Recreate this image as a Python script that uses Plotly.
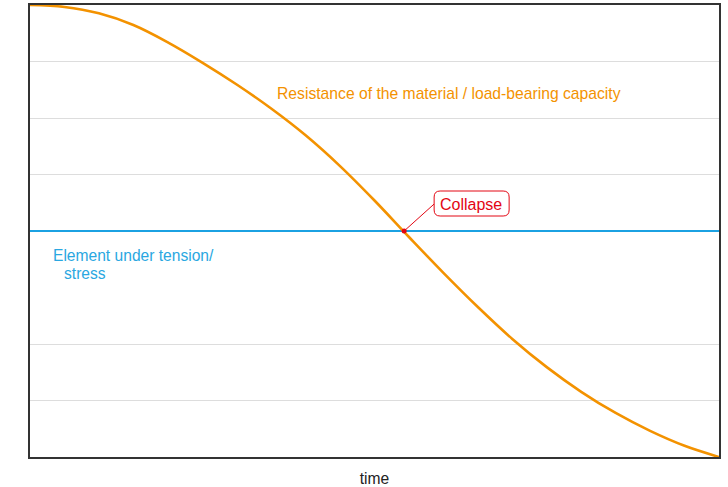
import plotly.graph_objects as go

# Data (time in arbitrary units 0..10, level in grid units 0..8)
capacity_t = [0, 0.5, 1, 1.5, 2, 2.5, 3, 3.5, 4, 4.5, 5, 5.5, 6, 6.5, 7, 7.5, 8, 8.5, 9, 9.5, 10]
capacity_y = [8.0, 7.965, 7.853, 7.646, 7.340, 6.982, 6.593, 6.168, 5.694, 5.149, 4.540,
              3.894, 3.260, 2.655, 2.090, 1.591, 1.154, 0.779, 0.462, 0.198, 0.0]
stress_t = [0, 10]
stress_y = [4, 4]
collapse_t = [5.43]
collapse_y = [4]
grid_levels = [1, 2, 5, 6, 7]

ORANGE = "#F39200"
BLUE = "#1BA1E2"
BLUE_TEXT = "#2AA7E1"
RED = "#E30613"
FONT = "Liberation Sans, Arial, sans-serif"

fig = go.Figure()
fig.add_trace(go.Scatter(x=stress_t, y=stress_y, mode="lines",
                         line=dict(color=BLUE, width=2), hoverinfo="skip"))
fig.add_trace(go.Scatter(x=capacity_t, y=capacity_y, mode="lines",
                         line=dict(color=ORANGE, width=2.6, shape="spline", smoothing=1),
                         hoverinfo="skip"))

# leader line and rounded box around "Collapse" label, anchored at the collapse point in pixels
fig.add_shape(type="line", xsizemode="pixel", ysizemode="pixel",
              xanchor=collapse_t[0], yanchor=collapse_y[0], xref="x", yref="y",
              x0=0, y0=0, x1=30, y1=27, line=dict(color=RED, width=1))
r = 6
x0, x1, y0, y1 = 30, 105, 15, 40
path = (f"M {x0+r},{y0} L {x1-r},{y0} Q {x1},{y0} {x1},{y0+r} L {x1},{y1-r} "
        f"Q {x1},{y1} {x1-r},{y1} L {x0+r},{y1} Q {x0},{y1} {x0},{y1-r} "
        f"L {x0},{y0+r} Q {x0},{y0} {x0+r},{y0} Z")
fig.add_shape(type="path", xsizemode="pixel", ysizemode="pixel",
              xanchor=collapse_t[0], yanchor=collapse_y[0], xref="x", yref="y",
              path=path, line=dict(color=RED, width=1), fillcolor="white")

fig.add_trace(go.Scatter(x=collapse_t, y=collapse_y, mode="markers",
                         marker=dict(color=RED, size=5), hoverinfo="skip"))

fig.add_annotation(x=collapse_t[0], y=collapse_y[0], xshift=67, yshift=27,
                   text="Collapse", showarrow=False,
                   font=dict(family=FONT, size=16, color=RED))
fig.add_annotation(x=3.555, y=6.44, xanchor="left", yanchor="middle", showarrow=False,
                   text="Resistance of the material / load-bearing capacity",
                   font=dict(family=FONT, size=15.7, color=ORANGE))
fig.add_annotation(x=0.305, y=3.56, xanchor="left", yanchor="middle", showarrow=False,
                   text="Element under tension/",
                   font=dict(family=FONT, size=15.6, color=BLUE_TEXT))
fig.add_annotation(x=0.464, y=3.24, xanchor="left", yanchor="middle", showarrow=False,
                   text="stress",
                   font=dict(family=FONT, size=15.6, color=BLUE_TEXT))

fig.update_layout(
    width=728, height=487,
    margin=dict(l=30, r=9, t=5, b=30, autoexpand=False),
    paper_bgcolor="white", plot_bgcolor="white",
    showlegend=False,
    font=dict(family=FONT, color="#222"),
)
fig.update_xaxes(range=[0, 10], showgrid=False, zeroline=False, showticklabels=False,
                 ticks="", showline=True, mirror=True, linewidth=2, linecolor="#333",
                 automargin=False,
                 title=dict(text="time", font=dict(family=FONT, size=15.6, color="#222"),
                            standoff=15))
fig.update_yaxes(range=[0, 8], tickvals=grid_levels, showgrid=True, gridcolor="#DDDDDD",
                 gridwidth=1, zeroline=False, showticklabels=False, ticks="",
                 automargin=False,
                 showline=True, mirror=True, linewidth=2, linecolor="#333")

fig.write_html("out.html", config={"displayModeBar": False},
               post_script="document.body.style.margin='0';document.body.style.overflow='hidden';")
